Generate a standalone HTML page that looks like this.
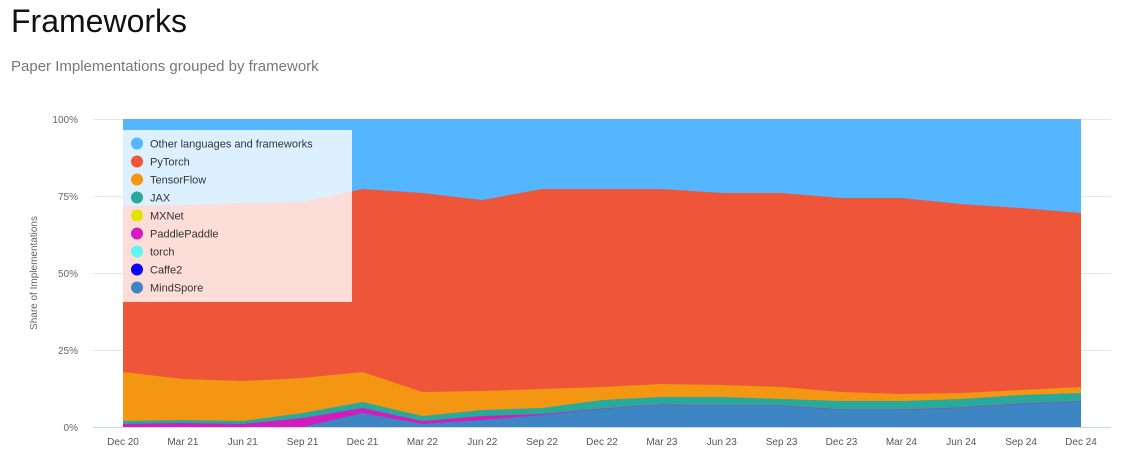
<!DOCTYPE html>
<html><head><meta charset="utf-8"><style>
body{margin:0;background:#fff;width:1134px;height:458px;overflow:hidden;font-family:"Liberation Sans",sans-serif;}
</style></head><body>
<svg width="1134" height="458" xmlns="http://www.w3.org/2000/svg" font-family="Liberation Sans, sans-serif">
<text x="11" y="32" font-size="32" fill="#111">Frameworks</text>
<text x="11" y="71" font-size="15" fill="#777">Paper Implementations grouped by framework</text>
<g stroke="#e6e6e6" stroke-width="1">
<line x1="93" y1="119.5" x2="1111" y2="119.5"/>
<line x1="93" y1="196.5" x2="1111" y2="196.5"/>
<line x1="93" y1="273.5" x2="1111" y2="273.5"/>
<line x1="93" y1="350.5" x2="1111" y2="350.5"/>
</g>
<line x1="93" y1="427.5" x2="1111" y2="427.5" stroke="#ccd6eb"/>
<g font-size="10" fill="#666" text-anchor="end">
<text x="78" y="123">100%</text><text x="78" y="200">75%</text><text x="78" y="277">50%</text><text x="78" y="354">25%</text><text x="78" y="431">0%</text>
</g>
<text transform="translate(37,273) rotate(-90)" font-size="10" fill="#666" text-anchor="middle">Share of Implementations</text>
<rect x="123" y="119" width="958" height="308" fill="#53b6fe"/>
<polygon fill="#ef5639" points="123,206 182.9,205 242.8,203 302.6,202 362.5,189 422.4,193 482.3,200 542.1,189 602,189 661.9,189 721.8,193 781.6,193 841.5,198 901.4,198 961.3,204 1021.1,208 1081,213 1081,427 123,427"/>
<polygon fill="#f39611" points="123,372 182.9,379 242.8,381 302.6,378 362.5,372 422.4,392 482.3,391 542.1,389 602,387 661.9,384 721.8,385 781.6,387 841.5,392 901.4,394 961.3,393 1021.1,390 1081,387 1081,427 123,427"/>
<polygon fill="#27aa9c" points="123,421 182.9,420 242.8,421 302.6,413 362.5,402 422.4,416 482.3,410 542.1,408 602,400 661.9,397 721.8,397 781.6,399 841.5,401 901.4,401 961.3,399 1021.1,395 1081,393 1081,427 123,427"/>
<polygon fill="#d21cbe" points="123,424 182.9,423 242.8,424 302.6,418 362.5,408 422.4,421 482.3,416 542.1,414 602,408.5 661.9,404.5 721.8,405.5 781.6,405.5 841.5,409.5 901.4,409.5 961.3,407.5 1021.1,403.5 1081,401.5 1081,427 123,427"/>
<polygon fill="#3d86c4" points="123,427 182.9,427 242.8,427 302.6,427 362.5,413 422.4,424 482.3,420 542.1,415 602,409 661.9,405 721.8,406 781.6,406 841.5,410 901.4,410 961.3,408 1021.1,404 1081,402 1081,427 123,427"/>
<rect x="123" y="130" width="229" height="172" fill="#fff" fill-opacity="0.8"/>
<g font-size="11" fill="#333">
<circle cx="137" cy="143.5" r="6" fill="#53b6fe"/><text x="150" y="147.5">Other languages and frameworks</text>
<circle cx="137" cy="161.5" r="6" fill="#ef5639"/><text x="150" y="165.5">PyTorch</text>
<circle cx="137" cy="179.5" r="6" fill="#f39611"/><text x="150" y="183.5">TensorFlow</text>
<circle cx="137" cy="197.5" r="6" fill="#27aa9c"/><text x="150" y="201.5">JAX</text>
<circle cx="137" cy="215.5" r="6" fill="#e6e200"/><text x="150" y="219.5">MXNet</text>
<circle cx="137" cy="233.5" r="6" fill="#d21cbe"/><text x="150" y="237.5">PaddlePaddle</text>
<circle cx="137" cy="251.5" r="6" fill="#5ef5f2"/><text x="150" y="255.5">torch</text>
<circle cx="137" cy="269.5" r="6" fill="#0a00f5"/><text x="150" y="273.5">Caffe2</text>
<circle cx="137" cy="287.5" r="6" fill="#3d86c4"/><text x="150" y="291.5">MindSpore</text>
</g>
<g font-size="10" fill="#555" text-anchor="middle">
<text x="123" y="445">Dec 20</text><text x="182.9" y="445">Mar 21</text><text x="242.8" y="445">Jun 21</text><text x="302.6" y="445">Sep 21</text><text x="362.5" y="445">Dec 21</text><text x="422.4" y="445">Mar 22</text><text x="482.3" y="445">Jun 22</text><text x="542.1" y="445">Sep 22</text><text x="602" y="445">Dec 22</text><text x="661.9" y="445">Mar 23</text><text x="721.8" y="445">Jun 23</text><text x="781.6" y="445">Sep 23</text><text x="841.5" y="445">Dec 23</text><text x="901.4" y="445">Mar 24</text><text x="961.3" y="445">Jun 24</text><text x="1021.1" y="445">Sep 24</text><text x="1081" y="445">Dec 24</text>
</g>
</svg>
</body></html>
